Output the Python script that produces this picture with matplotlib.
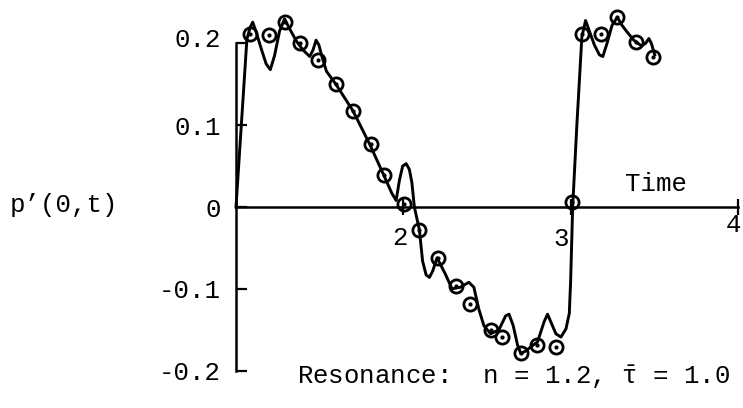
import matplotlib
matplotlib.use('Agg')
import matplotlib.pyplot as plt
from matplotlib.transforms import ScaledTranslation

# solid curve p'(0,t)
t_curve = [1.00, 1.065, 1.085, 1.10, 1.12, 1.15, 1.18, 1.205, 1.23, 1.26,
           1.29, 1.32, 1.36, 1.40, 1.44, 1.46, 1.478, 1.495, 1.513, 1.54,
           1.60, 1.70, 1.80, 1.88, 1.93, 1.956, 1.976, 1.995, 2.016, 2.035,
           2.05, 2.065, 2.095, 2.114, 2.135, 2.155, 2.175, 2.20, 2.25, 2.29,
           2.34, 2.39, 2.42, 2.45, 2.48, 2.52, 2.57, 2.61, 2.63, 2.655,
           2.68, 2.70, 2.73, 2.76, 2.80, 2.84, 2.86, 2.885, 2.91, 2.94,
           2.97, 2.99, 2.998, 3.004, 3.01, 3.035, 3.065, 3.087, 3.11, 3.14,
           3.17, 3.19, 3.215, 3.245, 3.276, 3.305, 3.335, 3.375, 3.42, 3.445,
           3.465, 3.48, 3.50]
p_curve = [0.000, 0.205, 0.220, 0.226, 0.214, 0.194, 0.175, 0.168, 0.185, 0.215,
           0.230, 0.218, 0.203, 0.192, 0.184, 0.192, 0.204, 0.198, 0.184, 0.166,
           0.149, 0.117, 0.076, 0.040, 0.017, 0.008, 0.033, 0.050, 0.053, 0.046,
           0.030, 0.000, -0.028, -0.066, -0.083, -0.086, -0.078, -0.062, -0.082, -0.100,
           -0.098, -0.092, -0.098, -0.125, -0.145, -0.155, -0.150, -0.133, -0.131, -0.145,
           -0.168, -0.179, -0.176, -0.171, -0.165, -0.140, -0.131, -0.143, -0.155, -0.159,
           -0.149, -0.130, -0.090, -0.045, 0.000, 0.100, 0.208, 0.228, 0.215, 0.198,
           0.186, 0.184, 0.200, 0.222, 0.232, 0.222, 0.214, 0.204, 0.197, 0.200,
           0.206, 0.200, 0.186]

# circled points
t_pts = [1.083, 1.196, 1.292, 1.38, 1.49, 1.595, 1.696, 1.804, 1.885, 2.006,
         2.09, 2.204, 2.314, 2.40, 2.52, 2.59, 2.70, 2.80, 2.91, 3.008,
         3.067, 3.177, 3.276, 3.39, 3.49]
p_pts = [0.212, 0.210, 0.226, 0.200, 0.180, 0.150, 0.118, 0.077, 0.039, 0.004,
         -0.028, -0.062, -0.096, -0.119, -0.150, -0.159, -0.179, -0.169, -0.171, 0.006,
         0.212, 0.212, 0.232, 0.202, 0.184]

x_ticks = [2, 3, 4]
x_labels = ['2', '3', '4']
y_ticks = [-0.2, -0.1, 0, 0.1, 0.2]
y_labels = ['-0.2', '-0.1', '0', '0.1', '0.2']

plt.rcParams['font.family'] = ['Liberation Mono', 'DejaVu Sans Mono']
plt.rcParams['mathtext.fontset'] = 'custom'
plt.rcParams['mathtext.rm'] = 'Liberation Mono'
plt.rcParams['mathtext.it'] = 'Liberation Mono'
fs = 18.5

fig = plt.figure(figsize=(7.43, 4.08), dpi=100)
ax = fig.add_axes([0, 0, 1, 1])
ax.set_xlim(-0.409, 4.027)
ax.set_ylim(-0.2457, 0.2531)

ax.plot(t_curve, p_curve, '-', color='black', lw=2.1, zorder=3)
ax.plot(t_pts, p_pts, 'o', ms=9.5, mfc='none', mec='black', mew=2.0, zorder=4)
ax.plot(t_pts, p_pts, '.', ms=4, color='black', zorder=4)

for side in ['top', 'right']:
    ax.spines[side].set_visible(False)
ax.spines['left'].set_position(('data', 1))
ax.spines['left'].set_bounds(-0.2, 0.2)
ax.spines['bottom'].set_position(('data', 0))
ax.spines['bottom'].set_bounds(1, 4)
for side in ['left', 'bottom']:
    ax.spines[side].set_linewidth(1.8)

ax.set_yticks(y_ticks, y_labels)
ax.tick_params(axis='y', direction='in', length=8, width=1.6, pad=11, labelsize=fs)
ax.set_xticks(x_ticks, x_labels)
ax.tick_params(axis='x', direction='inout', length=11, width=1.6, pad=8, labelsize=fs)

# typed labels sit a little off their ticks
x_shift = [(-0.03, 0.0), (-0.10, -0.01), (-0.05, 0.13)]
for lab, (dx, dy) in zip(ax.get_xticklabels(), x_shift):
    lab.set_transform(lab.get_transform() + ScaledTranslation(dx, dy, fig.dpi_scale_trans))
top_lab = ax.get_yticklabels()[-1]
top_lab.set_transform(top_lab.get_transform() + ScaledTranslation(0, 0.06, fig.dpi_scale_trans))

fig.text(10 / 743, 1 - 205 / 408, 'p\u2019(0,t)', fontsize=fs, ha='left', va='center')
ax.text(3.32, 0.028, 'Time', fontsize=fs, ha='left', va='center')
ax.text(1.364, -0.208, r'Resonance:  n = 1.2, $\bar{\tau}$ = 1.0', fontsize=fs, ha='left', va='center')

fig.savefig('out.png', dpi=100)
